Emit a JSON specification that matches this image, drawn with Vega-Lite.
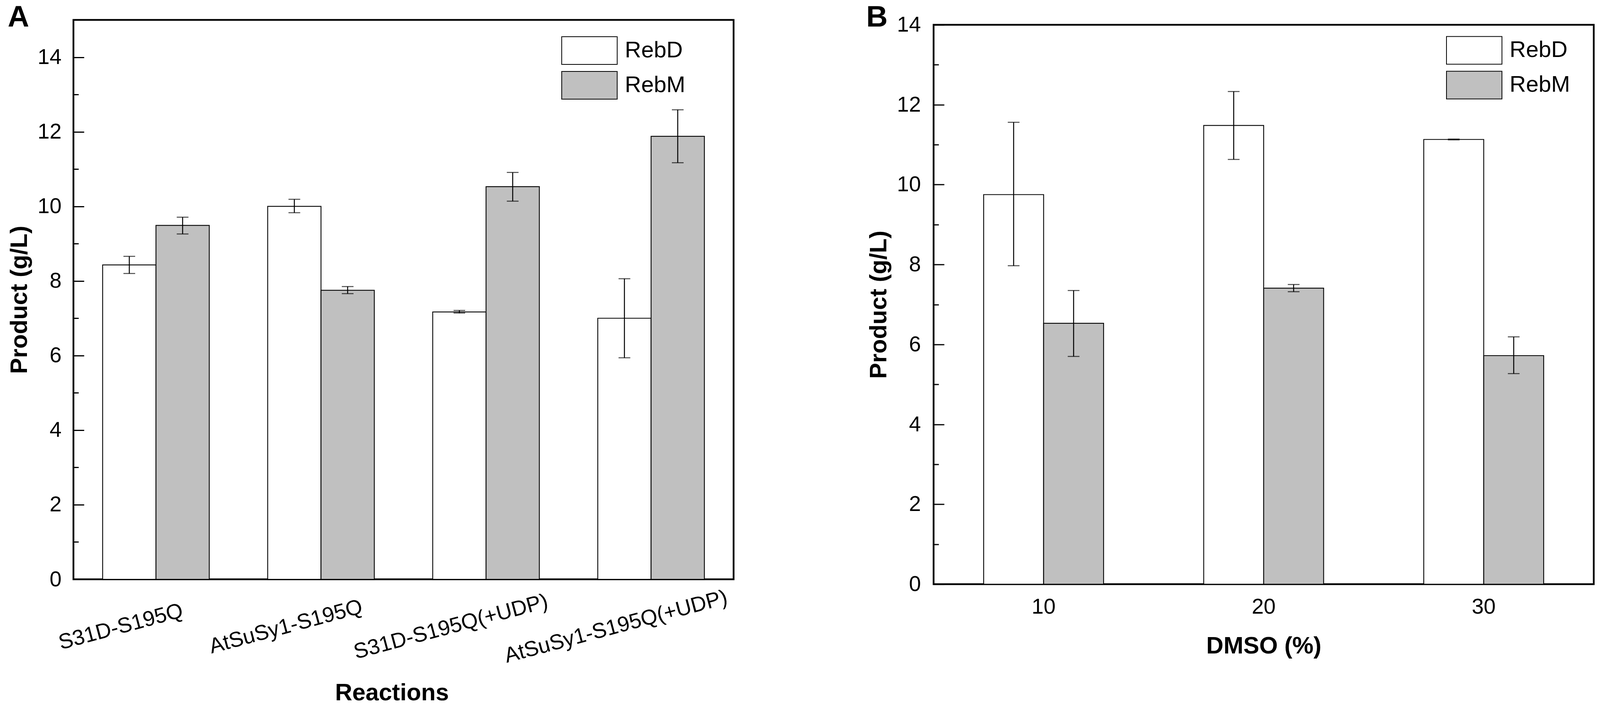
{
  "$schema": "https://vega.github.io/schema/vega-lite/v6.json",
  "padding": {"left": 17, "top": 4, "right": 0, "bottom": 0},
  "spacing": 336,
  "config": {
    "font": "Liberation Sans",
    "view": {"stroke": "black", "strokeWidth": 4.5},
    "axis": {
      "grid": false,
      "domain": false,
      "labelFont": "Liberation Sans",
      "labelColor": "black",
      "labelFontSize": 55,
      "labelLimit": 0,
      "titleFont": "Liberation Sans",
      "titleColor": "black",
      "titleFontSize": 61,
      "titleFontWeight": "bold",
      "tickColor": "black",
      "tickWidth": 3,
      "labelOverlap": false
    },
    "legend": {
      "labelFont": "Liberation Sans",
      "labelFontSize": 58,
      "labelColor": "black",
      "labelLimit": 0
    }
  },
  "resolve": {
    "scale": {"x": "independent", "y": "independent", "xOffset": "independent", "fill": "independent"},
    "legend": {"fill": "independent"}
  },
  "hconcat": [
    {
      "width": 1690,
      "height": 1433,
      "title": {"text": "A", "anchor": "start", "frame": "bounds", "fontSize": 76, "fontWeight": "bold", "font": "Liberation Sans", "color": "black", "baseline": "alphabetic", "offset": -93},
      "data": {
        "values": [
          {"reaction": "S31D-S195Q", "product": "RebD", "value": 8.43, "lo": 8.2, "hi": 8.66},
          {"reaction": "S31D-S195Q", "product": "RebM", "value": 9.49, "lo": 9.26, "hi": 9.71},
          {"reaction": "AtSuSy1-S195Q", "product": "RebD", "value": 10.0, "lo": 9.83, "hi": 10.19},
          {"reaction": "AtSuSy1-S195Q", "product": "RebM", "value": 7.75, "lo": 7.66, "hi": 7.85},
          {"reaction": "S31D-S195Q(+UDP)", "product": "RebD", "value": 7.17, "lo": 7.14, "hi": 7.21},
          {"reaction": "S31D-S195Q(+UDP)", "product": "RebM", "value": 10.53, "lo": 10.14, "hi": 10.91},
          {"reaction": "AtSuSy1-S195Q(+UDP)", "product": "RebD", "value": 7.0, "lo": 5.94, "hi": 8.06},
          {"reaction": "AtSuSy1-S195Q(+UDP)", "product": "RebM", "value": 11.88, "lo": 11.17, "hi": 12.59}
        ]
      },
      "encoding": {
        "x": {
          "field": "reaction",
          "type": "nominal",
          "sort": ["S31D-S195Q", "AtSuSy1-S195Q", "S31D-S195Q(+UDP)", "AtSuSy1-S195Q(+UDP)"],
          "scale": {"paddingInner": 0.354, "paddingOuter": 0.177},
          "axis": {
            "title": "Reactions",
            "labelAngle": -15,
            "labelAlign": "center",
            "labelBaseline": "middle",
            "labelOffset": -90,
            "labelPadding": 148,
            "tickSize": -27,
            "titlePadding": 61,
            "titleX": 815
          }
        },
        "xOffset": {"field": "product", "type": "nominal", "sort": ["RebD", "RebM"]}
      },
      "resolve": {"axis": {"y": "independent"}},
      "layer": [
        {
          "mark": {"type": "bar", "stroke": "black", "strokeWidth": 2.2},
          "encoding": {
            "y": {
              "field": "value",
              "type": "quantitative",
              "scale": {"domain": [0, 15], "nice": false},
              "axis": {"title": "Product (g/L)", "orient": "left", "values": [0, 2, 4, 6, 8, 10, 12, 14], "tickSize": -27, "labelPadding": 58, "titlePadding": 14}
            },
            "fill": {
              "field": "product",
              "type": "nominal",
              "scale": {"domain": ["RebD", "RebM"], "range": ["white", "#c0c0c0"]},
              "legend": {
                "title": null,
                "orient": "none",
                "legendX": 1284.5,
                "legendY": 42,
                "padding": 0,
                "rowPadding": 10,
                "symbolType": "M-2,-1H2V1H-2Z",
                "symbolSize": 5041,
                "symbolStrokeColor": "black",
                "symbolStrokeWidth": 2,
                "labelOffset": 54,
                "encode": {"symbols": {"update": {"stroke": {"value": "black"}, "strokeWidth": {"value": 2}, "fillOpacity": {"value": 1}}}}
              }
            }
          }
        },
        {
          "mark": {"type": "rule", "color": "black", "strokeWidth": 2.5},
          "encoding": {
            "y": {
              "field": "lo",
              "type": "quantitative",
              "axis": {"title": null, "orient": "left", "values": [1, 3, 5, 7, 9, 11, 13], "tickSize": -13, "labels": false}
            },
            "y2": {"field": "hi"}
          }
        },
        {
          "mark": {"type": "tick", "color": "black", "size": 30, "thickness": 2.5},
          "encoding": {"y": {"field": "lo", "type": "quantitative", "axis": null}}
        },
        {
          "mark": {"type": "tick", "color": "black", "size": 30, "thickness": 2.5},
          "encoding": {"y": {"field": "hi", "type": "quantitative", "axis": null}}
        }
      ]
    },
    {
      "title": {"text": "B", "anchor": "start", "frame": "bounds", "fontSize": 76, "fontWeight": "bold", "font": "Liberation Sans", "color": "black", "baseline": "alphabetic", "offset": -110},
      "spacing": -18.5,
      "resolve": {
        "scale": {"fill": "independent"},
        "legend": {"fill": "independent"}
      },
      "vconcat": [
        {
          "width": 1690,
          "height": 1,
          "view": {"stroke": null},
          "data": {"values": []},
          "mark": "rule",
          "encoding": {}
        },
        {
          "width": 1690,
          "height": 1433,
          "data": {
            "values": [
              {"dmso": "10", "product": "RebD", "value": 9.75, "lo": 7.97, "hi": 11.56},
              {"dmso": "10", "product": "RebM", "value": 6.53, "lo": 5.7, "hi": 7.35},
              {"dmso": "20", "product": "RebD", "value": 11.48, "lo": 10.63, "hi": 12.33},
              {"dmso": "20", "product": "RebM", "value": 7.41, "lo": 7.32, "hi": 7.5},
              {"dmso": "30", "product": "RebD", "value": 11.13, "lo": 11.12, "hi": 11.14},
              {"dmso": "30", "product": "RebM", "value": 5.72, "lo": 5.27, "hi": 6.19}
            ]
          },
          "encoding": {
            "x": {
              "field": "dmso",
              "type": "nominal",
              "sort": ["10", "20", "30"],
              "scale": {"paddingInner": 0.455, "paddingOuter": 0.2275},
              "axis": {
                "title": "DMSO (%)",
                "labelAngle": 0,
                "labelPadding": 59,
                "tickSize": -27,
                "titlePadding": 43
              }
            },
            "xOffset": {"field": "product", "type": "nominal", "sort": ["RebD", "RebM"]}
          },
          "resolve": {"axis": {"y": "independent"}},
          "layer": [
            {
              "mark": {"type": "bar", "stroke": "black", "strokeWidth": 2.2},
              "encoding": {
                "y": {
                  "field": "value",
                  "type": "quantitative",
                  "scale": {"domain": [0, 14], "nice": false},
                  "axis": {"title": "Product (g/L)", "orient": "left", "values": [0, 2, 4, 6, 8, 10, 12, 14], "tickSize": -27, "labelPadding": 60, "titlePadding": 14}
                },
                "fill": {
                  "field": "product",
                  "type": "nominal",
                  "scale": {"domain": ["RebD", "RebM"], "range": ["white", "#c0c0c0"]},
                  "legend": {
                    "title": null,
                    "orient": "none",
                    "legendX": 1347.5,
                    "legendY": 29,
                    "padding": 0,
                    "rowPadding": 10,
                    "symbolType": "M-2,-1H2V1H-2Z",
                    "symbolSize": 5041,
                    "symbolStrokeColor": "black",
                    "symbolStrokeWidth": 2,
                    "labelOffset": 54,
                    "encode": {"symbols": {"update": {"stroke": {"value": "black"}, "strokeWidth": {"value": 2}, "fillOpacity": {"value": 1}}}}
                  }
                }
              }
            },
            {
              "mark": {"type": "rule", "color": "black", "strokeWidth": 2.5},
              "encoding": {
                "y": {
                  "field": "lo",
                  "type": "quantitative",
                  "axis": {"title": null, "orient": "left", "values": [1, 3, 5, 7, 9, 11, 13], "tickSize": -13, "labels": false}
                },
                "y2": {"field": "hi"}
              }
            },
            {
              "mark": {"type": "tick", "color": "black", "size": 30, "thickness": 2.5},
              "encoding": {"y": {"field": "lo", "type": "quantitative", "axis": null}}
            },
            {
              "mark": {"type": "tick", "color": "black", "size": 30, "thickness": 2.5},
              "encoding": {"y": {"field": "hi", "type": "quantitative", "axis": null}}
            }
          ]
        }
      ]
    }
  ]
}
